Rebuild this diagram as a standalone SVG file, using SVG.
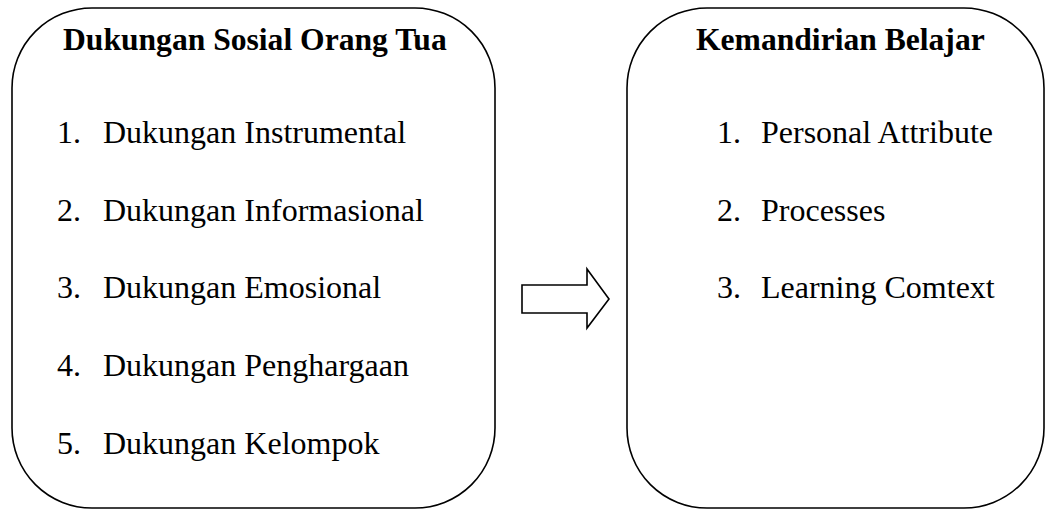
<svg xmlns="http://www.w3.org/2000/svg" width="1046" height="510" viewBox="0 0 1046 510">
<style>
.box{fill:#fff;stroke:#000;stroke-width:1.6}
.t{font-family:"Liberation Serif","Times New Roman",serif;font-size:32px;fill:#000}
.b{font-weight:bold;font-size:31.6px}
</style>
<rect width="1046" height="510" fill="#fff"/>
<g id="node-dukungan">
<rect class="box" x="12" y="8" width="483" height="500" rx="80" ry="80"/>
<text class="t b" x="63" y="50">Dukungan Sosial Orang Tua</text>
<text class="t" x="57" y="143">1.</text><text class="t" x="103" y="143">Dukungan Instrumental</text>
<text class="t" x="57" y="221">2.</text><text class="t" x="103" y="221">Dukungan Informasional</text>
<text class="t" x="57" y="298">3.</text><text class="t" x="103" y="298">Dukungan Emosional</text>
<text class="t" x="57" y="376">4.</text><text class="t" x="103" y="376">Dukungan Penghargaan</text>
<text class="t" x="57" y="454">5.</text><text class="t" x="103" y="454">Dukungan Kelompok</text>
</g>
<g id="node-kemandirian">
<rect class="box" x="627" y="8" width="417" height="500" rx="80" ry="80"/>
<text class="t b" x="696" y="50">Kemandirian Belajar</text>
<text class="t" x="717" y="143">1.</text><text class="t" x="761" y="143">Personal Attribute</text>
<text class="t" x="717" y="221">2.</text><text class="t" x="761" y="221">Processes</text>
<text class="t" x="717" y="298">3.</text><text class="t" x="761" y="298">Learning Comtext</text>
</g>
<g id="connectors">
<polygon points="522,285 587,285 587,269 609,299 587,328 587,313 522,313" fill="#fff" stroke="#000" stroke-width="1.6"/>
</g>
</svg>
